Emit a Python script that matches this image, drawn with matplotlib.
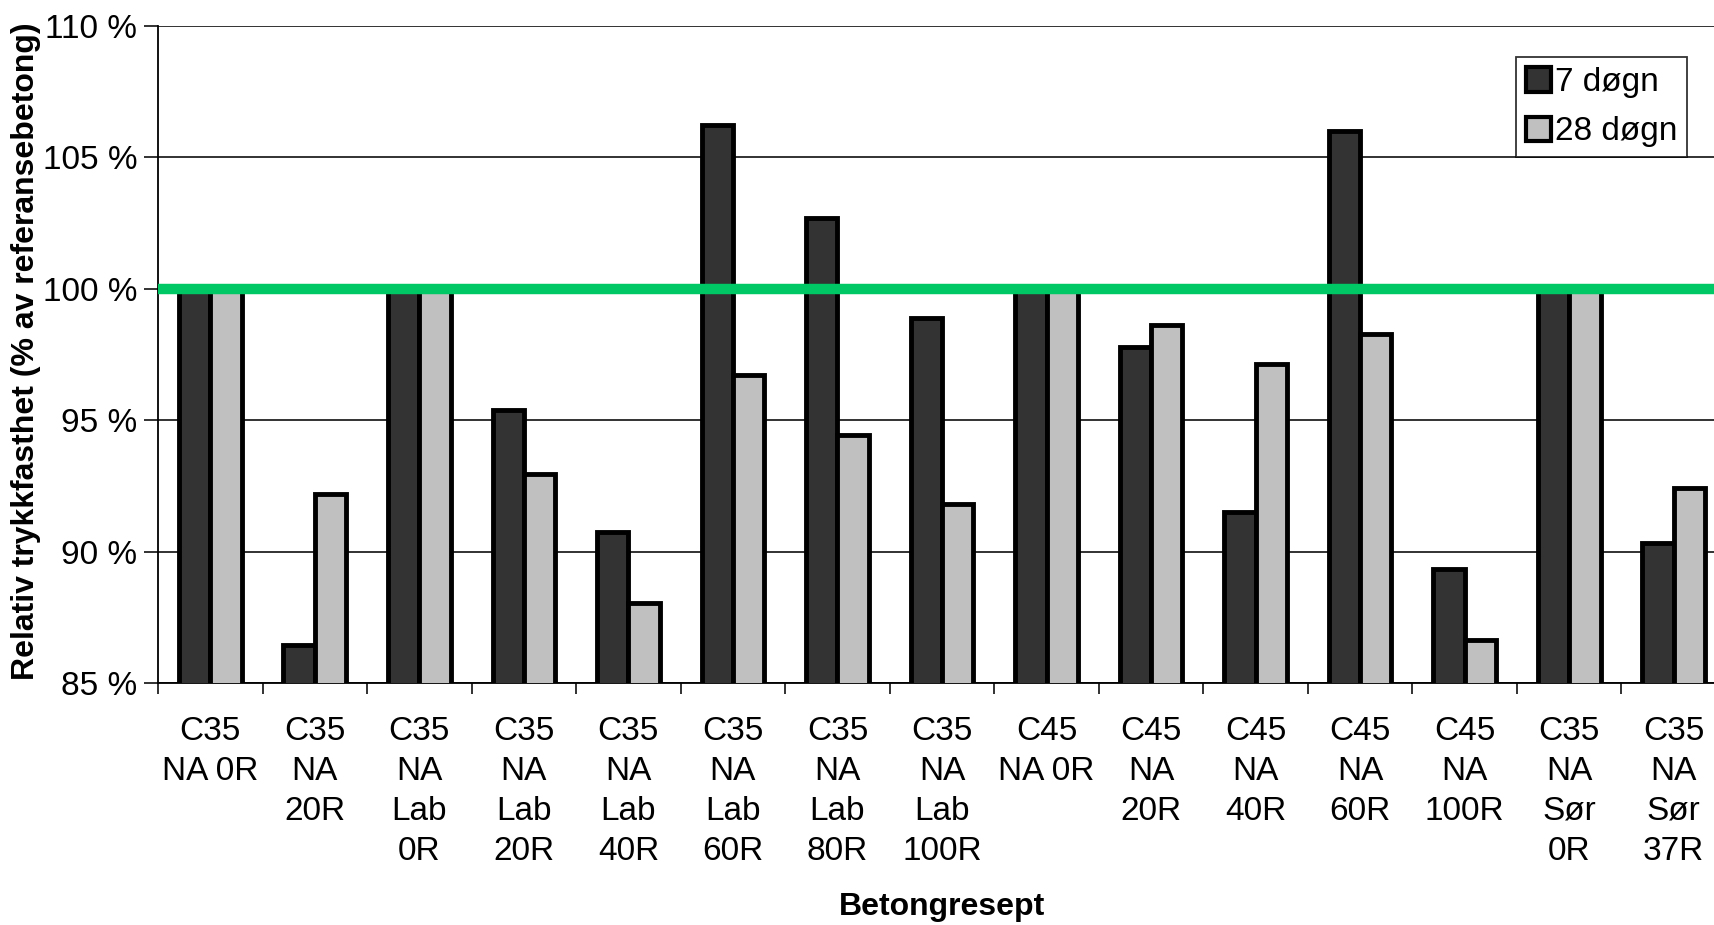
import matplotlib
matplotlib.use("Agg")
import matplotlib.pyplot as plt
import numpy as np
from matplotlib.ticker import FixedLocator

plt.rcParams['font.family'] = ['Liberation Sans', 'DejaVu Sans']

categories = ["C35\nNA 0R", "C35\nNA\n20R", "C35\nNA\nLab\n0R", "C35\nNA\nLab\n20R",
              "C35\nNA\nLab\n40R", "C35\nNA\nLab\n60R", "C35\nNA\nLab\n80R",
              "C35\nNA\nLab\n100R", "C45\nNA 0R", "C45\nNA\n20R", "C45\nNA\n40R",
              "C45\nNA\n60R", "C45\nNA\n100R", "C35\nNA\nSør\n0R", "C35\nNA\nSør\n37R"]
d7 = [100, 86.45, 100, 95.37, 90.76, 106.23, 102.7, 98.89, 100, 97.77, 91.51, 106.02, 89.33, 100, 90.34]
d28 = [100, 92.2, 100, 92.96, 88.03, 96.73, 94.45, 91.8, 100, 98.64, 97.15, 98.27, 86.63, 100, 92.42]
yticks = [85, 90, 95, 100, 105, 110]
series_names = ["7 døgn", "28 døgn"]

fig = plt.figure(figsize=(17.15, 9.25), dpi=100)
ax = fig.add_axes([158/1715, 1-683/925, (1726-158)/1715, (683-26)/925])

x = np.arange(len(categories))
w = 0.3
ax.bar(x - w/2, d7, width=w, color='#333333', edgecolor='black', linewidth=3.5,
       label=series_names[0], zorder=3)
ax.bar(x + w/2, d28, width=w, color='#c0c0c0', edgecolor='black', linewidth=3.5,
       label=series_names[1], zorder=3)

ax.axhline(100, color='#00c864', linewidth=7.5, zorder=5)

ax.set_ylim(85, 110)
ax.set_xlim(-0.5, len(categories) - 0.5)
ax.set_yticks(yticks)
ax.set_yticklabels([f"{t} %" for t in yticks], fontsize=24)
ax.yaxis.grid(True, color='#222222', linewidth=1.3, zorder=0)
ax.set_axisbelow(True)

ax.set_xticks(x)
ax.set_xticklabels(categories, fontsize=24, linespacing=1.375)
ax.tick_params(axis='x', which='major', length=0, pad=23.5)
ax.xaxis.set_minor_locator(FixedLocator(np.arange(-0.5, len(categories) + 0.5, 1)))
ax.tick_params(axis='x', which='minor', length=8, width=1.3, color='#222222')
ax.tick_params(axis='y', length=10, width=1.3, color='#222222', pad=5)

for s in ['top', 'right']:
    ax.spines[s].set_visible(False)
ax.spines['left'].set_linewidth(1.3)
ax.spines['bottom'].set_linewidth(1.3)

ax.set_xlabel("Betongresept", fontsize=23, fontweight='bold', labelpad=18)
ax.set_ylabel("Relativ trykkfasthet (% av referansebetong)", fontsize=23, fontweight='bold')
ax.yaxis.set_label_coords(-0.0743, 0.505)

leg = ax.legend(loc='upper left', bbox_to_anchor=((1516-158)/1568, 1-(57-26)/657),
                fontsize=24, frameon=True, fancybox=False, edgecolor='black',
                handlelength=0.75, handleheight=0.75, handletextpad=0.12,
                borderpad=0.3, labelspacing=0.55, borderaxespad=0)
leg.get_frame().set_linewidth(1.3)
for h in leg.legend_handles:
    h.set_linewidth(3)

fig.savefig("out.png", dpi=100)
